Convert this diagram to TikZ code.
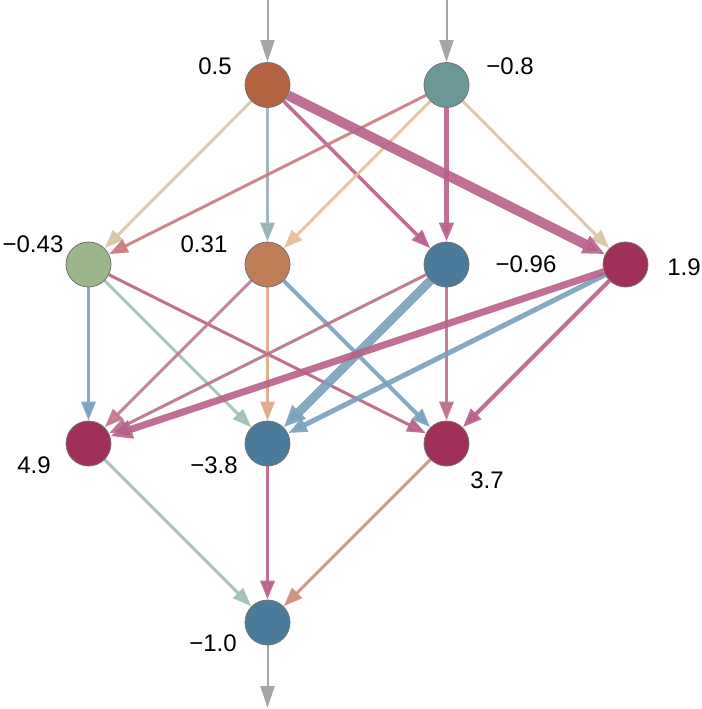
\documentclass[tikz,border=0pt]{standalone}
\usepackage{fontspec}
\setmainfont{Liberation Sans}
\usetikzlibrary{arrows.meta,backgrounds}
\definecolor{cA}{HTML}{B3633F}
\definecolor{cB}{HTML}{6A9897}
\definecolor{cC}{HTML}{9DB58A}
\definecolor{cD}{HTML}{BF7E55}
\definecolor{cBlue}{HTML}{4A7B9B}
\definecolor{cRed}{HTML}{A03059}
\definecolor{eTan}{HTML}{D8C5A6}
\definecolor{eGrayTeal}{HTML}{95B1B5}
\definecolor{ePink}{HTML}{B9608A}
\definecolor{eRose}{HTML}{C67B80}
\definecolor{eLightOr}{HTML}{E7BF99}
\definecolor{eBlue}{HTML}{7AA1BC}
\definecolor{eLGreen}{HTML}{A0BFB6}
\definecolor{ePinkL}{HTML}{C7768E}
\definecolor{eOrange}{HTML}{DDA889}
\definecolor{ePinkM}{HTML}{B9708D}
\definecolor{eSalmon}{HTML}{CC8F7E}
\definecolor{eGray}{HTML}{A6A6A6}
\tikzset{
  neuron/.style={circle,draw=black!55,line width=0.8pt,minimum size=45pt,inner sep=0pt},
  lab/.style={font=\fontsize{24}{24}\selectfont,inner sep=0pt,anchor=center},
  conn/.style={-{Triangle[length=19pt,width=14pt]},line width=3pt,draw opacity=0.9,fill opacity=0.9},
  thickconn/.style={-{Triangle[length=22pt,width=18pt]}},
  io/.style={-{Triangle[length=22pt,width=14pt]},line width=2pt,draw=eGray}
}
\begin{document}
\begin{tikzpicture}[x=1pt,y=-1pt]
\useasboundingbox (0,0) rectangle (701,709);
% nodes
\node[neuron,fill=cA] (A) at (267.5,85) {};
\node[neuron,fill=cB] (B) at (446.5,85) {};
\node[neuron,fill=cC] (C) at (88.5,264.5) {};
\node[neuron,fill=cD] (D) at (267.5,264.5) {};
\node[neuron,fill=cBlue] (E) at (446.5,264.5) {};
\node[neuron,fill=cRed] (F) at (625.5,264.5) {};
\node[neuron,fill=cRed] (G) at (88.5,443.5) {};
\node[neuron,fill=cBlue] (H) at (267.5,443.5) {};
\node[neuron,fill=cRed] (I) at (446.5,443.5) {};
\node[neuron,fill=cBlue] (J) at (267.5,622.5) {};
% labels
\node[lab] (lA) at (215,66) {0.5};
\node[lab] (lB) at (510,66) {\char"2212 0.8};
\node[lab] (lC) at (33,244) {\char"2212 0.43};
\node[lab] (lD) at (204,244) {0.31};
\node[lab] (lE) at (526,264) {\char"2212 0.96};
\node[lab] (lF) at (684,267) {1.9};
\node[lab] (lG) at (34,465) {4.9};
\node[lab] (lH) at (214,465) {\char"2212 3.8};
\node[lab] (lI) at (487,480) {3.7};
\node[lab] (lJ) at (213,643) {\char"2212 1.0};
% io coordinates
\coordinate (inA) at (267.5,0);
\coordinate (inB) at (446.5,0);
\coordinate (out) at (267.5,708);
\begin{scope}[on background layer]
\draw[io] (inA) -- (A);
\draw[io] (inB) -- (B);
\draw[io] (J) -- (out);
% layer 1 -> 2
\draw[conn,draw=eTan] (A) -- (C);
\draw[conn,draw=eGrayTeal] (A) -- (D);
\draw[conn,draw=ePink,line width=3.5pt] (A) -- (E);
\draw[conn,draw=eRose] (B) -- (C);
\draw[conn,draw=eLightOr] (B) -- (D);
\draw[conn,draw=ePink,line width=4.5pt] (B) -- (E);
\draw[conn,draw=eTan] (B) -- (F);
% layer 2 -> 3
\draw[conn,draw=eBlue,line width=3.5pt] (C) -- (G);
\draw[conn,draw=eLGreen] (C) -- (H);
\draw[conn,draw=ePink] (C) -- (I);
\draw[conn,draw=ePinkL] (D) -- (G);
\draw[conn,draw=eOrange] (D) -- (H);
\draw[conn,draw=eBlue,line width=4pt] (D) -- (I);
\draw[conn,draw=ePinkM] (E) -- (G);
\draw[conn,draw=ePinkM,line width=3.5pt] (E) -- (I);
\draw[conn,draw=ePink,line width=4pt] (F) -- (I);
\draw[conn,draw=eBlue,line width=5pt] (F) -- (H);
\draw[conn,thickconn,draw=eBlue,line width=9pt] (E) -- (H);
\draw[conn,thickconn,draw=ePink,line width=7pt] (F) -- (G);
\draw[conn,thickconn,draw=ePink,line width=10pt] (A) -- (F);
% layer 3 -> 4
\draw[conn,draw=eLGreen] (G) -- (J);
\draw[conn,draw=ePink,line width=3.5pt] (H) -- (J);
\draw[conn,draw=eSalmon] (I) -- (J);
\end{scope}
\end{tikzpicture}
\end{document}
